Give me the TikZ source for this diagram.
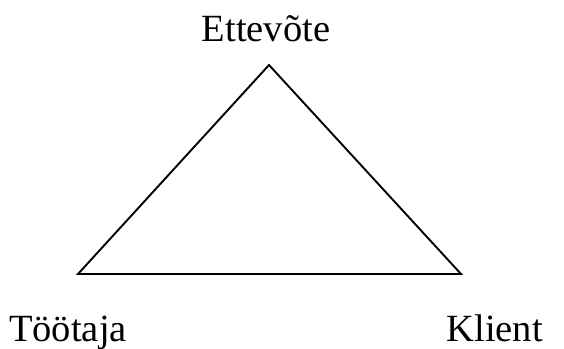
\documentclass[tikz,border=0pt]{standalone}
\usepackage{fontspec}
\setmainfont{Liberation Serif}
\begin{document}
\begin{tikzpicture}[x=1pt,y=-1pt,
  lbl/.style={anchor=base,inner sep=0pt,font=\fontsize{38.5}{44}\selectfont},
  edge/.style={line width=1.9pt,line join=miter}]
\useasboundingbox (0,0) rectangle (564,348);
\coordinate (apex) at (269,65);
\coordinate (bl) at (78,274);
\coordinate (br) at (461,274);
\draw[edge] (apex) -- (bl) -- (br) -- cycle;
\node[lbl] (ettevote) at (266,41) {Ettevõte};
\node[lbl,anchor=base west] (tootaja) at (9,341) {Töötaja};
\node[lbl,anchor=base east] (klient) at (543,341) {Klient};
\end{tikzpicture}
\end{document}
